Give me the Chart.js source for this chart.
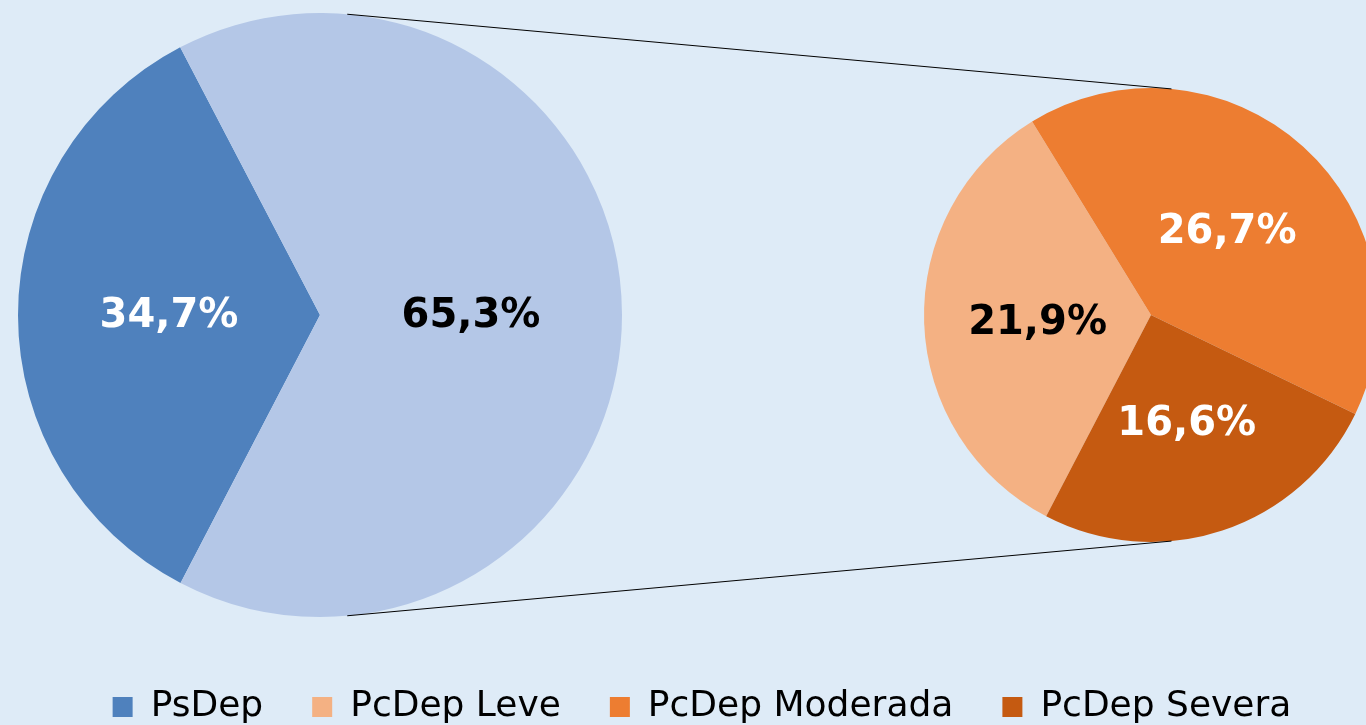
<!DOCTYPE html>
<html><head><meta charset="utf-8">
<script src="https://cdn.jsdelivr.net/npm/chart.js@4/dist/chart.umd.min.js"></script>
<style>
html,body{margin:0;padding:0;background:#DEEBF7;overflow:hidden;width:1366px;height:725px;}
#wrap{position:absolute;left:0;top:0;width:1366px;height:735px;}
</style></head><body>
<div id="wrap"><canvas id="c"></canvas></div>
<script>
// ---- data ----
const categories = ['PsDep', 'PcDep', 'PcDep Leve', 'PcDep Moderada', 'PcDep Severa'];
const mainPieValues = [34.7, 65.3, 0, 0, 0];   // first pie: PsDep vs total PcDep
const subPieValues  = [0, 0, 21.9, 26.7, 16.6]; // second pie: PcDep breakdown
const legendCategories = ['PsDep', 'PcDep Leve', 'PcDep Moderada', 'PcDep Severa'];

// ---- styles ----
const sliceColors = ['#4F81BD', '#B4C7E7', '#F4B183', '#ED7D31', '#C55A11'];
const labelColors = ['#FFFFFF', '#000000', '#000000', '#FFFFFF', '#FFFFFF'];
const pieLayout = [ {cx: 320, cy: 315, r: 302}, {cx: 1151, cy: 315, r: 227} ];
const labelNudgeY = [2, 2, 5, 2, 2];

const placePies = {
  id: 'placePies',
  afterDatasetsUpdate(chart) {
    chart.data.datasets.forEach((ds, di) => {
      const L = pieLayout[di];
      chart.getDatasetMeta(di).data.forEach(el => {
        el.x = L.cx; el.y = L.cy; el.innerRadius = 0; el.outerRadius = L.r;
      });
    });
  }
};

const connectors = {
  id: 'connectors',
  afterDatasetsDraw(chart) {
    const a = chart.getDatasetMeta(0).data[0], b = chart.getDatasetMeta(1).data[2];
    const dx = b.x - a.x, dy = b.y - a.y, d = Math.hypot(dx, dy);
    const ux = dx / d, uy = dy / d, nx = uy, ny = -ux;
    const s = (a.outerRadius - b.outerRadius) / d, c = Math.sqrt(1 - s * s);
    const ctx = chart.ctx;
    ctx.save();
    ctx.strokeStyle = '#000'; ctx.lineWidth = 1;
    [1, -1].forEach(sg => {
      const vx = s * ux + sg * c * nx, vy = s * uy + sg * c * ny;
      ctx.beginPath();
      ctx.moveTo(a.x + a.outerRadius * vx, a.y + a.outerRadius * vy);
      ctx.lineTo(b.x + b.outerRadius * vx, b.y + b.outerRadius * vy);
      ctx.stroke();
    });
    ctx.restore();
  }
};

const sliceLabels = {
  id: 'sliceLabels',
  afterDatasetsDraw(chart) {
    const ctx = chart.ctx;
    ctx.save();
    ctx.font = 'bold 40px "DejaVu Sans"';
    ctx.textAlign = 'center';
    ctx.textBaseline = 'middle';
    chart.data.datasets.forEach((ds, di) => {
      chart.getDatasetMeta(di).data.forEach((arc, i) => {
        const v = ds.data[i];
        if (!v) return;
        const mid = (arc.startAngle + arc.endAngle) / 2;
        const rr = arc.outerRadius * 0.5;
        ctx.fillStyle = labelColors[i];
        ctx.fillText(v.toFixed(1).replace('.', ',') + '%',
          arc.x + Math.cos(mid) * rr, arc.y + Math.sin(mid) * rr + labelNudgeY[i]);
      });
    });
    ctx.restore();
  }
};

new Chart(document.getElementById('c'), {
  type: 'pie',
  data: {
    labels: categories,
    datasets: [
      { data: mainPieValues, backgroundColor: sliceColors, borderWidth: 0, rotation: 207.5 },
      { data: subPieValues, backgroundColor: sliceColors, borderWidth: 0, rotation: 207.5 }
    ]
  },
  options: {
    responsive: true,
    maintainAspectRatio: false,
    animation: false,
    events: [],
    layout: { padding: { left: 38 } },
    plugins: {
      tooltip: { enabled: false },
      legend: {
        position: 'bottom',
        onClick: () => {},
        labels: {
          font: { family: 'DejaVu Sans', size: 36 },
          color: '#000',
          boxWidth: 20,
          boxHeight: 20,
          padding: 49,
          generateLabels(chart) {
            return legendCategories.map(name => {
              const i = categories.indexOf(name);
              return { text: name, fillStyle: sliceColors[i], strokeStyle: sliceColors[i],
                       lineWidth: 0, hidden: false, index: i, fontColor: '#000' };
            });
          }
        }
      }
    }
  },
  plugins: [placePies, connectors, sliceLabels]
});
</script>
</body></html>
